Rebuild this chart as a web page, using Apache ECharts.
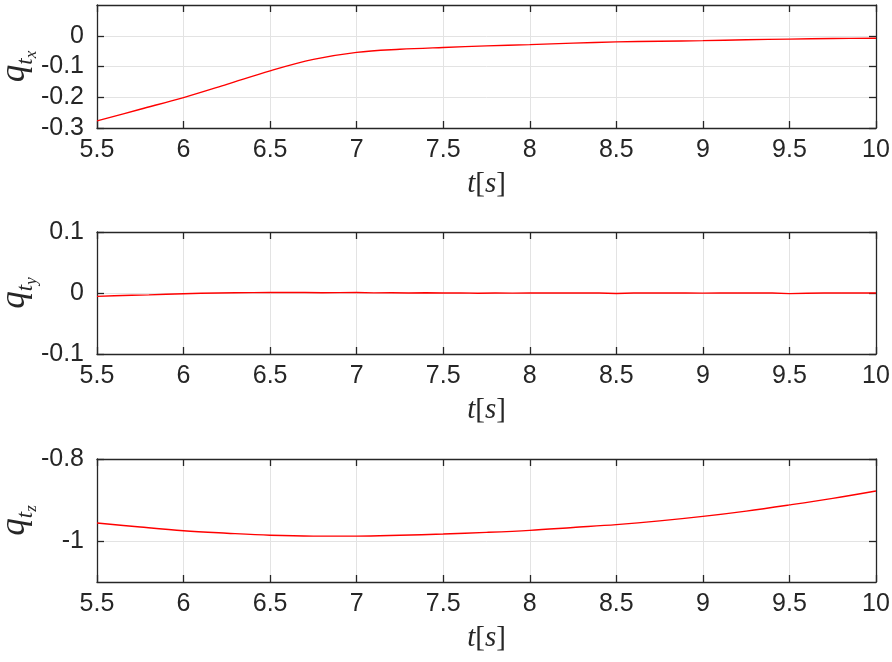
<!DOCTYPE html>
<html>
<head>
<meta charset="utf-8">
<script src="https://cdn.jsdelivr.net/npm/echarts@6/dist/echarts.min.js"></script>
<style>
html,body{margin:0;padding:0;background:#fff;}
#c{width:892px;height:662px;}
</style>
</head>
<body>
<div id="c"></div>
<script>
// ---- data ----
var tA = [5.5,5.75,6.0,6.25,6.5,6.75,7.0,7.25,7.5,7.75,8.0,8.25,8.5,8.75,9.0,9.25,9.5,9.75,10.0];
var qtx = [-0.277,-0.239,-0.201,-0.158,-0.114,-0.077,-0.054,-0.044,-0.038,-0.033,-0.029,-0.024,-0.020,-0.018,-0.016,-0.013,-0.011,-0.009,-0.008];
var qtz = [-0.956,-0.966,-0.975,-0.981,-0.986,-0.988,-0.988,-0.986,-0.983,-0.979,-0.974,-0.967,-0.960,-0.951,-0.940,-0.927,-0.912,-0.896,-0.878];
var tB = [5.5,5.6,5.7,5.8,5.9,6.0,6.1,6.2,6.3,6.4,6.5,6.6,6.7,6.8,6.9,7.0,7.1,7.2,7.3,7.4,7.5,7.6,7.7,7.8,7.9,8.0,8.1,8.2,8.3,8.4,8.5,8.6,8.7,8.8,8.9,9.0,9.1,9.2,9.3,9.4,9.5,9.6,9.7,9.8,9.9,10.0];
var qty = [-0.0055,-0.0045,-0.0037,-0.003,-0.002,-0.0012,-0.0005,0.0,0.0004,0.0006,0.0008,0.0007,0.0009,0.0005,0.0006,0.0007,0.0002,0.0004,0.0001,0.0003,0.0,0.0002,-0.0004,0.0001,-0.0002,0.0,0.0001,-0.0001,0.0002,0.0,-0.0008,0.0001,0.0002,0.0,0.0001,-0.0002,0.0001,0.0,0.0002,-0.0001,-0.001,-0.0003,0.0001,0.0,0.0001,0.0];
var xTicks = [5.5,6,6.5,7,7.5,8,8.5,9,9.5,10];
var yTicks1 = [-0.3,-0.2,-0.1,0];
var yTicks2 = [-0.1,0,0.1];
var yTicks3 = [-1,-0.8];
var yNames = ['x','y','z'];

function pair(xs, ys){ return xs.map(function(x,i){return [x, ys[i]];}); }

var ink = '#262626';
var sans = "'Liberation Sans', Arial, Helvetica, sans-serif";
var serif = "'Liberation Serif', 'Times New Roman', serif";
var grids = [
  {left:97, width:779, top:5, height:123, outerBoundsMode:'none', containLabel:false},
  {left:97, width:779, top:232, height:122, outerBoundsMode:'none', containLabel:false},
  {left:97, width:779, top:459, height:123, outerBoundsMode:'none', containLabel:false}
];
var yRanges = [[-0.3,0.1,yTicks1],[-0.1,0.1,yTicks2],[-1.1,-0.8,yTicks3]];
var fmt = function(v){ return String(+(+v).toFixed(3)); };

var xAxes = [], yAxes = [];
for (var g=0; g<3; g++){
  xAxes.push({
    type:'value', gridIndex:g, position:'bottom', min:5.5, max:10, interval:0.5,
    axisLine:{show:true, onZero:false, lineStyle:{color:ink, width:1.3}},
    axisTick:{show:true, inside:true, length:7, lineStyle:{color:ink, width:1.3}},
    axisLabel:{show:true, color:ink, fontSize:25, fontFamily:sans, margin:10, formatter:fmt},
    splitLine:{show:true, lineStyle:{color:'#e3e3e3', width:1}},
    name:'{i|t}{r|[}{i|s}{r|]}', nameLocation:'middle', nameGap:42, nameMoveOverlap:false,
    nameTextStyle:{rich:{
      i:{fontFamily:serif, fontStyle:'italic', fontSize:29, color:ink},
      r:{fontFamily:serif, fontSize:29, color:ink}
    }}
  });
  xAxes.push({
    type:'value', gridIndex:g, position:'top', min:5.5, max:10, interval:0.5,
    axisLine:{show:true, onZero:false, lineStyle:{color:ink, width:1.3}},
    axisTick:{show:true, inside:true, length:7, lineStyle:{color:ink, width:1.3}},
    axisLabel:{show:false}, splitLine:{show:false}
  });
  var r = yRanges[g];
  yAxes.push({
    type:'value', gridIndex:g, position:'left', min:r[0], max:r[1],
    axisLine:{show:true, onZero:false, lineStyle:{color:ink, width:1.3}},
    axisTick:{show:true, inside:true, length:7, customValues:r[2], lineStyle:{color:ink, width:1.3}},
    axisLabel:{show:true, color:ink, fontSize:25, fontFamily:sans, margin:13, customValues:r[2], formatter:fmt},
    splitLine:{show:true, lineStyle:{color:'#e3e3e3', width:1}},
    name:'{q|q}{t|t}{s|' + yNames[g] + '}', nameLocation:'middle', nameGap:57, nameRotate:90, nameMoveOverlap:false,
    nameTextStyle:{rich:{
      q:{fontFamily:serif, fontStyle:'italic', fontSize:35, color:ink, verticalAlign:'bottom', padding:[0,0,8,0]},
      t:{fontFamily:serif, fontStyle:'italic', fontSize:23, color:ink, verticalAlign:'bottom', padding:[0,0,3,0]},
      s:{fontFamily:serif, fontStyle:'italic', fontSize:17, color:ink, verticalAlign:'bottom', padding:[0,0,0,0]}
    }}
  });
  yAxes.push({
    type:'value', gridIndex:g, position:'right', min:r[0], max:r[1],
    axisLine:{show:true, onZero:false, lineStyle:{color:ink, width:1.3}},
    axisTick:{show:true, inside:true, length:7, customValues:r[2], lineStyle:{color:ink, width:1.3}},
    axisLabel:{show:false}, splitLine:{show:false}
  });
}

var lineStyle = {color:'#ff0000', width:1.4};
var series = [
  {type:'line', xAxisIndex:0, yAxisIndex:0, data:pair(tA,qtx), smooth:0.35, showSymbol:false, lineStyle:lineStyle, silent:true, z:5},
  {type:'line', xAxisIndex:2, yAxisIndex:2, data:pair(tB,qty), smooth:false, showSymbol:false, lineStyle:lineStyle, silent:true, z:5},
  {type:'line', xAxisIndex:4, yAxisIndex:4, data:pair(tA,qtz), smooth:0.35, showSymbol:false, lineStyle:lineStyle, silent:true, z:5}
];

var chart = echarts.init(document.getElementById('c'), null, {renderer:'canvas'});
chart.setOption({
  animation:false,
  backgroundColor:'#ffffff',
  grid:grids,
  xAxis:xAxes,
  yAxis:yAxes,
  series:series
});
</script>
</body>
</html>
